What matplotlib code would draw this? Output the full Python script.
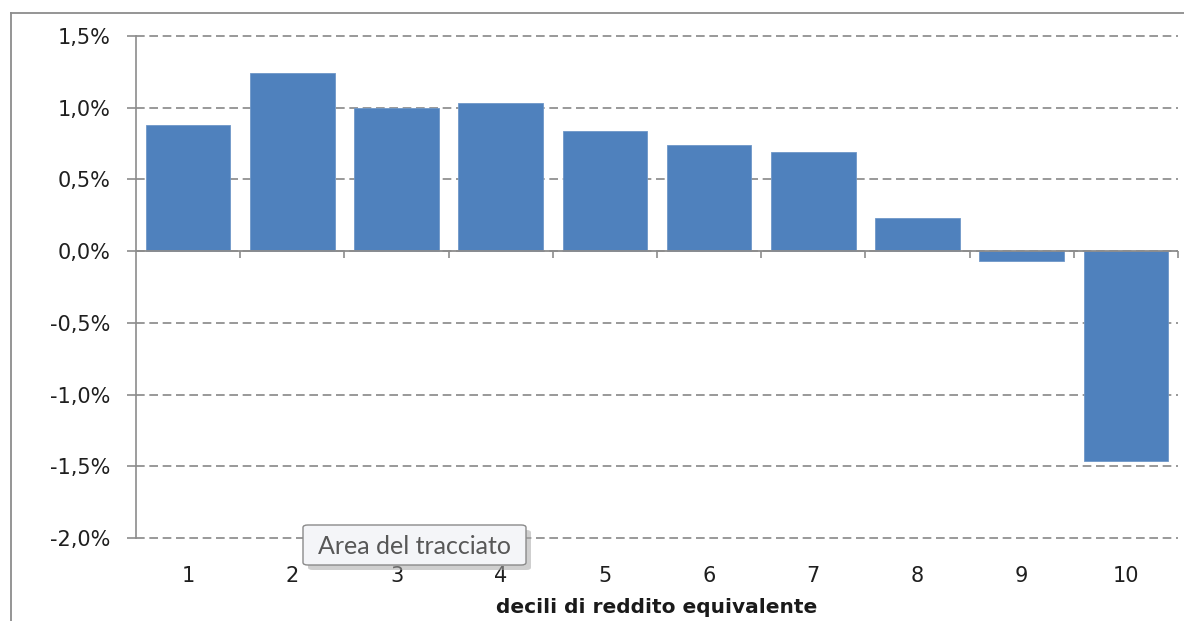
import matplotlib
matplotlib.use("Agg")
import matplotlib.pyplot as plt
import matplotlib.patches as patches
from matplotlib.lines import Line2D
from matplotlib.ticker import FuncFormatter

# dati (variazione %, per decile)
decili = ["1", "2", "3", "4", "5", "6", "7", "8", "9", "10"]
variazione = [0.88, 1.24, 1.00, 1.03, 0.84, 0.74, 0.69, 0.23, -0.07, -1.46]
y_ticks = [-2.0, -1.5, -1.0, -0.5, 0.0, 0.5, 1.0, 1.5]

plt.rcParams["font.family"] = ["DejaVu Sans"]

fig = plt.figure(figsize=(11.84, 6.21), dpi=100)
ax = fig.add_axes([136 / 1184, 1 - 538 / 621, 1042 / 1184, 502 / 621])

x = list(range(len(decili)))
ax.bar(x, variazione, width=0.81, color="#4F81BD", edgecolor="#6E97C8", linewidth=0.6, zorder=3)

ax.set_xlim(-0.5, len(decili) - 0.5)
ax.set_ylim(min(y_ticks), max(y_ticks))

# griglia tratteggiata
ax.set_yticks(y_ticks)
ax.grid(axis="y", linestyle=(0, (5.2, 2.8)), color="#878787", linewidth=1.2, zorder=0)
for gl in ax.get_ygridlines():
    gl.set_clip_on(False)
ax.grid(axis="x", visible=False)
ax.yaxis.set_major_formatter(FuncFormatter(lambda v, p: ("%.1f%%" % v).replace(".", ",")))

# assi
for s in ["top", "right", "bottom"]:
    ax.spines[s].set_visible(False)
ax.spines["left"].set_color("#8C8C8C")
ax.spines["left"].set_linewidth(1.2)
ax.tick_params(axis="y", direction="out", length=6.5, width=1.2, color="#8C8C8C",
               pad=12, labelsize=15, labelcolor="#1f1f1f")

# etichette in basso, asse sullo zero
ax.set_xticks(x)
ax.set_xticklabels(decili)
ax.tick_params(axis="x", length=0, pad=20, labelsize=15, labelcolor="#1f1f1f")
ax.axhline(0, color="#8C8C8C", linewidth=1.3, zorder=4)
confini = [i + 0.5 for i in x]
ax.plot(confini, [0] * len(confini), ls="none", marker=3, markersize=5,
        markeredgewidth=1.2, color="#8C8C8C", zorder=4, clip_on=False)

ax.set_xlabel("decili di reddito equivalente", fontsize=14.5, fontweight="bold",
              labelpad=9, color="#1a1a1a")

# bordo dell'area del grafico
fig.add_artist(Line2D([11 / 1184, 11 / 1184], [0, 1 - 13 / 621], color="#8C8C8C", lw=1.3))
fig.add_artist(Line2D([11 / 1184, 1], [1 - 13 / 621, 1 - 13 / 621], color="#8C8C8C", lw=1.3))

# tooltip "Area del tracciato"
bx, by, bw, bh = 303 / 1184, 1 - 565 / 621, 223 / 1184, 40 / 621
ombra = patches.FancyBboxPatch((bx + 5 / 1184, by - 5 / 621), bw, bh,
                               boxstyle="round,pad=0,rounding_size=0.004",
                               transform=fig.transFigure, facecolor="#A8A8A8",
                               edgecolor="none", alpha=0.55, zorder=9)
box = patches.FancyBboxPatch((bx, by), bw, bh, boxstyle="round,pad=0,rounding_size=0.004",
                             transform=fig.transFigure, facecolor="#F4F5F8",
                             edgecolor="#8A8A8A", linewidth=1.0, zorder=10)
fig.add_artist(ombra)
fig.add_artist(box)
fig.text(bx + bw / 2, by + bh / 2, "Area del tracciato", ha="center", va="center_baseline",
         fontsize=18, color="#575757", zorder=11, family=["Lato", "DejaVu Sans"])

fig.savefig("out.png", dpi=100)
